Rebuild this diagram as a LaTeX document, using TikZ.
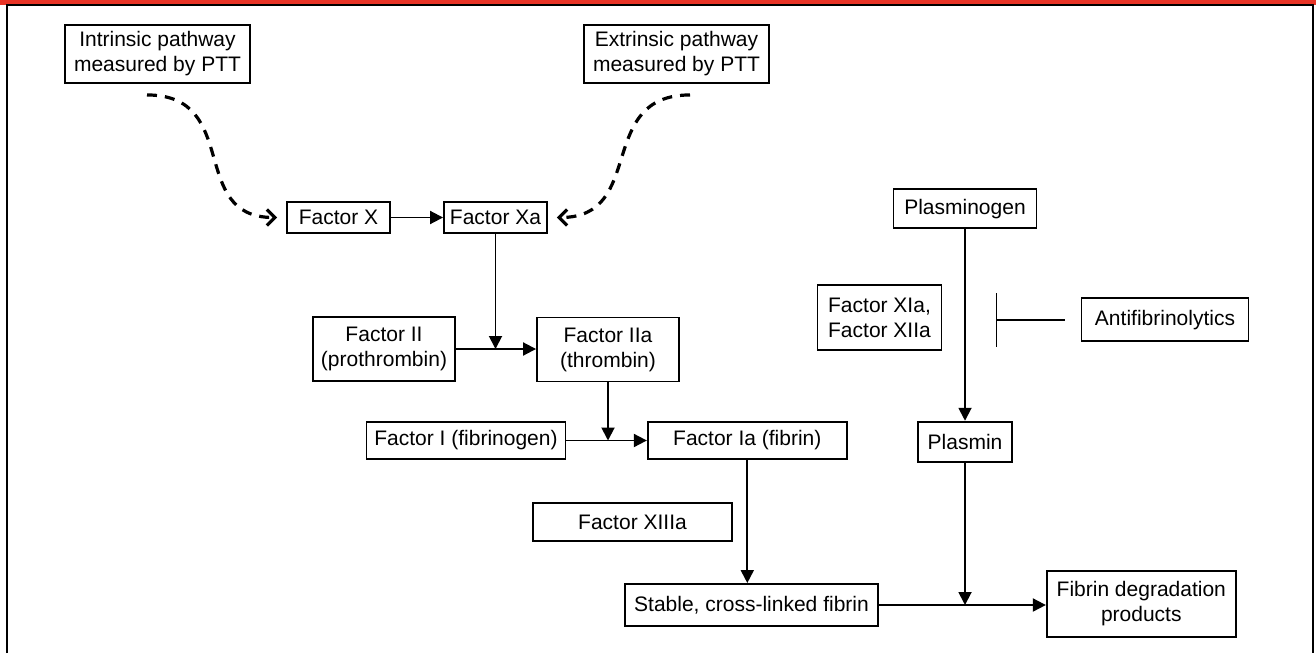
\documentclass[tikz,border=0pt]{standalone}
\usepackage{fontspec}
\setmainfont{Liberation Sans}
\usetikzlibrary{arrows.meta}
\definecolor{barred}{RGB}{232,52,38}
\newcommand{\fs}{\fontsize{21}{25}\selectfont}
\tikzset{
  box/.style={draw, line width=1.9pt, inner sep=0pt, align=center, font=\fs},
  conn/.style={line width=1.9pt, -{Triangle[length=13pt,width=13pt]}},
  dashconn/.style={line width=3.2pt, dash pattern=on 10pt off 8pt, line cap=butt,
     -{Straight Barb[length=8pt,width=16pt,line width=3.2pt]}},
  inhib/.style={line width=1.9pt, -{Bar[width=54pt,line width=1.9pt]}}
}
\begin{document}
\begin{tikzpicture}[x=1pt,y=-1pt]
\useasboundingbox (0,0) rectangle (1316,653);
\fill[white] (0,0) rectangle (1316,653);
\fill[barred] (0,0) rectangle (1316,4.6);
\draw[line width=1.5pt] (7,653) -- (7,5.2) -- (1313,5.2) -- (1313,653);

% nodes
\node[box, minimum width=185pt, minimum height=58pt] (intr) at (157.5,54) {Intrinsic pathway\\measured by PTT};
\node[box, minimum width=185pt, minimum height=58pt] (extr) at (676.5,54) {Extrinsic pathway\\measured by PTT};
\node[box, minimum width=103pt, minimum height=31pt] (fx) at (338.5,217.5) {Factor X};
\node[box, minimum width=103pt, minimum height=31pt] (fxa) at (495.5,217.5) {Factor Xa};
\node[box, minimum width=142pt, minimum height=64pt] (f2) at (384,349) {Factor II\\(prothrombin)};
\node[box, minimum width=142pt, minimum height=64pt] (f2a) at (608,349.5) {Factor IIa\\(thrombin)};
\node[box, minimum width=199pt, minimum height=37pt] (f1) at (466,440.5) {Factor I (fibrinogen)};
\node[box, minimum width=199pt, minimum height=37pt] (f1a) at (747.3,440.5) {Factor Ia (fibrin)};
\node[box, minimum width=199pt, minimum height=38pt] (f13) at (632.5,522) {Factor XIIIa};
\node[box, minimum width=253pt, minimum height=42pt] (stab) at (751.5,605) {Stable, cross-linked fibrin};
\node[box, minimum width=189pt, minimum height=66pt] (fdp) at (1141.3,604) {Fibrin degradation\\products};
\node[box, minimum width=143pt, minimum height=39pt] (plg) at (965,208.7) {Plasminogen};
\node[box, minimum width=124pt, minimum height=65pt, align=left] (f11) at (879.5,317.5) {Factor XIa,\\Factor XIIa};
\node[box, minimum width=167pt, minimum height=43pt] (antif) at (1165,319.7) {Antifibrinolytics};
\node[box, minimum width=94pt, minimum height=40pt] (plm) at (965,441.7) {Plasmin};

% helper coordinates
\coordinate (i0) at ([shift={(-10.5,11)}]intr.south);
\coordinate (i1) at ([shift={(-9,0)}]fx.west);
\coordinate (e0) at ([shift={(13.5,11)}]extr.south);
\coordinate (e1) at ([shift={(9,0)}]fxa.east);
\coordinate (j1) at (fxa.south |- f2.east);
\coordinate (j2) at (f2a.south |- f1.east);
\coordinate (j3) at (plm.south |- stab.east);
\coordinate (a0) at ([xshift=-16pt]antif.west);
\coordinate (a1) at ([xshift=-85pt]antif.west);

% dashed pathway curves
\draw[dashconn] (i0) .. controls +(95,0) and +(-90,0) .. (i1);
\draw[dashconn] (e0) .. controls +(-95,0) and +(90,0) .. (e1);

% solid connectors
\draw[conn] (fx) -- (fxa);
\draw[conn] (fxa.south) -- (j1);
\draw[conn] (f2.east) -- (f2.east -| f2a.west);
\draw[conn] (f2a.south) -- (j2);
\draw[conn] (f1.east) -- (f1.east -| f1a.west);
\draw[conn] (f1a.south) -- (f1a.south |- stab.north);
\draw[conn] (stab.east) -- (stab.east -| fdp.west);
\draw[conn] (plg) -- (plm);
\draw[conn] (plm.south) -- (j3);
\draw[inhib] (a0) -- (a1);
\end{tikzpicture}
\end{document}
